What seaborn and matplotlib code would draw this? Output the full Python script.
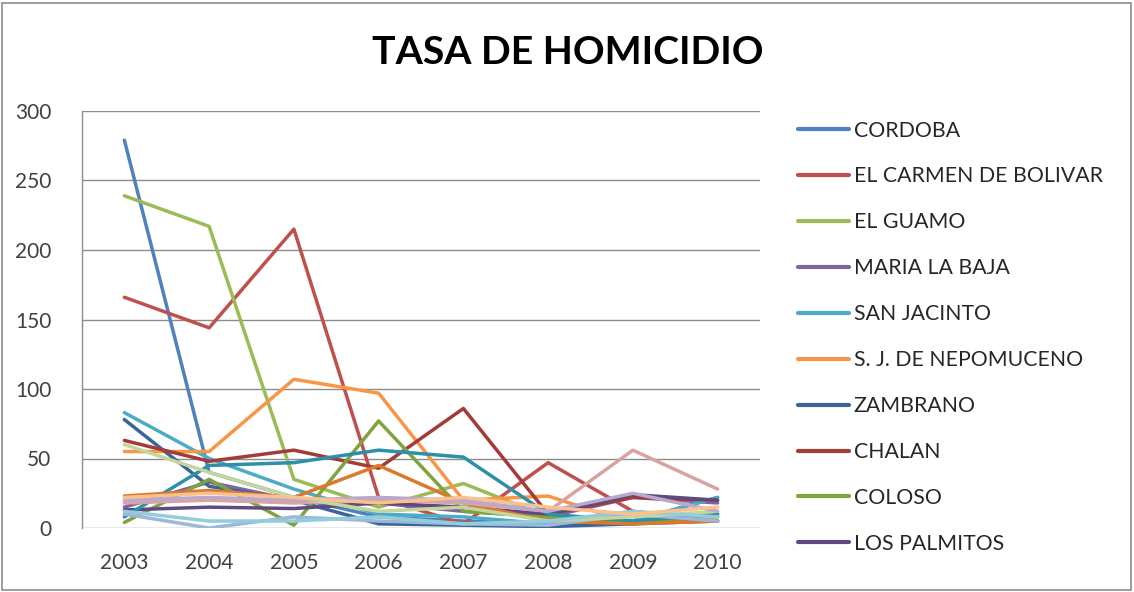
import matplotlib
matplotlib.use("Agg")
import matplotlib.pyplot as plt
import matplotlib.patches as mpatches
import seaborn as sns
import pandas as pd

years = ["2003", "2004", "2005", "2006", "2007", "2008", "2009", "2010"]

cordoba = [279, 40, 22, 8, 5, 3, 5, 22]
el_carmen = [166, 144, 215, 22, 3, 47, 12, 5]
el_guamo = [239, 217, 35, 15, 32, 8, 3, 8]
maria_la_baja = [15, 33, 20, 18, 12, 8, 22, 18]
san_jacinto = [83, 50, 28, 10, 8, 3, 5, 22]
nepomuceno = [55, 55, 107, 97, 20, 23, 3, 8]
zambrano = [78, 30, 20, 3, 2, 1, 3, 5]
chalan = [63, 48, 56, 43, 86, 10, 22, 20]
coloso = [4, 35, 2, 77, 12, 8, 3, 10]
los_palmitos = [13, 15, 14, 18, 15, 10, 24, 20]
serie_11 = [8, 45, 47, 56, 51, 10, 5, 10]
serie_12 = [23, 27, 22, 45, 18, 5, 3, 5]
serie_13 = [10, 0, 8, 5, 3, 2, 10, 5]
serie_14 = [18, 20, 18, 20, 18, 12, 56, 28]
serie_15 = [60, 40, 22, 12, 15, 5, 8, 12]
serie_16 = [20, 22, 20, 22, 20, 12, 25, 12]
serie_17 = [12, 5, 5, 8, 3, 5, 12, 8]
serie_18 = [22, 25, 22, 18, 22, 15, 10, 15]

series_names = ["CORDOBA", "EL CARMEN DE BOLIVAR", "EL GUAMO", "MARIA LA BAJA",
                "SAN JACINTO", "S. J. DE NEPOMUCENO", "ZAMBRANO", "CHALAN",
                "COLOSO", "LOS PALMITOS", "SERIE 11", "SERIE 12", "SERIE 13",
                "SERIE 14", "SERIE 15", "SERIE 16", "SERIE 17", "SERIE 18"]
series_values = [cordoba, el_carmen, el_guamo, maria_la_baja, san_jacinto,
                 nepomuceno, zambrano, chalan, coloso, los_palmitos, serie_11,
                 serie_12, serie_13, serie_14, serie_15, serie_16, serie_17, serie_18]

colors = ["#4F81BD", "#C0504D", "#9BBB59", "#8064A2", "#4BACC6", "#F79646",
          "#3A6598", "#A33B38", "#7FA33F", "#5F4A80", "#2E8FA8", "#DA7A2C",
          "#9DB7D8", "#D9A3A2", "#C3D69B", "#B9A9CF", "#93CDDD", "#FAC090"]

rows = []
for name, vals in zip(series_names, series_values):
    for y, v in zip(years, vals):
        rows.append({"Año": y, "Tasa": v, "Serie": name})
df = pd.DataFrame(rows)

sns.set_style("white")
plt.rcParams["font.family"] = ["Lato", "DejaVu Sans"]

fig = plt.figure(figsize=(11.34, 5.92), dpi=100)
ax = fig.add_axes([82 / 1134, 1 - 528 / 592, (760 - 82) / 1134, (528 - 111) / 592])

sns.lineplot(data=df, x="Año", y="Tasa", hue="Serie", hue_order=series_names,
             palette=dict(zip(series_names, colors)), sort=False,
             linewidth=2.5, ax=ax, legend=True)

ax.set_xlim(-0.5, len(years) - 0.5)
ax.set_ylim(0, 300)
ax.set_yticks(range(0, 301, 50))
ax.yaxis.grid(True, color="#8C8C8C", linewidth=1.0)
ax.set_axisbelow(True)
for s in ["top", "right", "bottom"]:
    ax.spines[s].set_visible(False)
ax.spines["left"].set_color("#8C8C8C")
ax.spines["left"].set_linewidth(1.0)
ax.tick_params(axis="both", length=0, labelsize=15, colors="#404040")
ax.tick_params(axis="y", pad=22)
ax.tick_params(axis="x", pad=18)
ax.set_xlabel("")
ax.set_ylabel("")

handles, labels = ax.get_legend_handles_labels()
for h in handles:
    h.set_linewidth(3.0)
ax.legend(handles[:10], labels[:10], loc="upper left",
          bbox_to_anchor=(789 / 1134, 1 - 112 / 592), bbox_transform=fig.transFigure,
          frameon=False, fontsize=15.3, handlelength=2.4, handletextpad=0.25,
          labelspacing=1.22, borderaxespad=0, labelcolor="#262626")

fig.text(568 / 1134, 1 - 53 / 592, "TASA DE HOMICIDIO", ha="center", va="center",
         fontsize=28.3, fontweight="bold", color="black")

fig.patches.append(mpatches.Rectangle((2 / 1134, 2 / 592), 1129 / 1134, 587 / 592,
                                      transform=fig.transFigure, fill=False,
                                      edgecolor="#8C8C8C", linewidth=1.2))

fig.savefig("out.png", dpi=100, facecolor="white")
